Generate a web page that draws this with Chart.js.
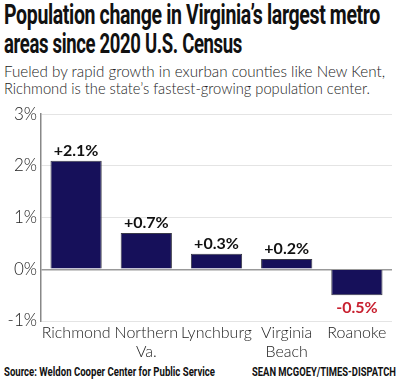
<!DOCTYPE html>
<html>
<head>
<meta charset="utf-8">
<script src="https://cdn.jsdelivr.net/npm/chart.js@4/dist/chart.umd.min.js"></script>
<style>
  html, body { margin: 0; padding: 0; background: #fff; }
  body { width: 400px; height: 381px; position: relative; overflow: hidden; }
  .ln { position: absolute; left: 4px; white-space: nowrap; transform-origin: 0 0; }
  .title { font-family: Roboto, sans-serif; font-weight: bold; font-size: 27px; line-height: 27px; color: #111; letter-spacing: -0.5px; }
  .sub { font-family: Lato, sans-serif; font-weight: 300; font-size: 16px; line-height: 17px; color: #222; }
  .foot { font-family: Roboto, sans-serif; font-weight: bold; font-size: 12px; line-height: 12px; color: #111; }
  #wrap { position: absolute; left: 0; top: 100px; width: 400px; height: 262px; }
</style>
</head>
<body>
<div class="ln title" data-w="376" style="top:2px">Population change in Virginia’s largest metro</div>
<div class="ln title" data-w="238" style="top:31px">areas since 2020 U.S. Census</div>
<div class="ln sub" data-w="381" style="top:62px">Fueled by rapid growth in exurban counties like New Kent,</div>
<div class="ln sub" data-w="366" style="top:79px">Richmond is the state’s fastest-growing population center.</div>
<div id="wrap"><canvas id="chart"></canvas></div>
<div class="ln foot" data-w="211" style="top:366px">Source: Weldon Cooper Center for Public Service</div>
<div class="ln foot" data-w="144" style="top:366px; left:252px">SEAN MCGOEY/TIMES-DISPATCH</div>
<script>
const METROS = [["Richmond"], ["Northern", "Va."], ["Lynchburg"], ["Virginia", "Beach"], ["Roanoke"]];
const CHANGE = [2.1, 0.7, 0.3, 0.2, -0.5];
const Y_TICKS = [-1, 0, 1, 2, 3];

// squeeze the text lines to the widths of the printed graphic
document.querySelectorAll(".ln").forEach((el) => {
  const w = el.getBoundingClientRect().width;
  el.style.transform = `scaleX(${Number(el.dataset.w) / w})`;
});

const barLabels = {
  id: "barLabels",
  afterDatasetsDraw(c) {
    const { ctx } = c;
    const meta = c.getDatasetMeta(0);
    ctx.save();
    ctx.font = "bold 16px Lato, sans-serif";
    ctx.textAlign = "center";
    meta.data.forEach((bar, i) => {
      const v = CHANGE[i];
      const txt = `${v > 0 ? "+" : ""}${v.toFixed(1)}%`;
      if (v >= 0) {
        ctx.fillStyle = "#111";
        ctx.textBaseline = "bottom";
        ctx.fillText(txt, bar.x, bar.y - 2);
      } else {
        ctx.fillStyle = "#c8202f";
        ctx.textBaseline = "top";
        ctx.fillText(txt, bar.x, bar.y + 5);
      }
    });
    ctx.restore();
  },
};

new Chart(document.getElementById("chart"), {
  type: "bar",
  data: {
    labels: METROS,
    datasets: [{ data: CHANGE, backgroundColor: "#16105a", borderColor: "#3a3a48", borderWidth: 1, barPercentage: 0.73, categoryPercentage: 1 }],
  },
  options: {
    responsive: true,
    maintainAspectRatio: false,
    animation: false,
    layout: { padding: { top: 14, right: 8, left: 0, bottom: 0 } },
    plugins: { legend: { display: false }, tooltip: { enabled: false } },
    scales: {
      x: {
        afterFit: (s) => { s.height = 41; },
        grid: { display: false, drawTicks: false },
        border: { display: false },
        ticks: { color: "#222", font: { family: "Lato", weight: "300", size: 16, lineHeight: 1.15 }, padding: 3, maxRotation: 0, autoSkip: false },
      },
      y: {
        min: -1,
        max: 3,
        afterBuildTicks: (s) => { s.ticks = Y_TICKS.map((v) => ({ value: v })); },
        afterFit: (s) => { s.width = 41; },
        grid: { color: (ctx) => (ctx.tick.value === 0 ? "#999" : "#e4e4e4"), lineWidth: (ctx) => (ctx.tick.value === 0 ? 1.5 : 1), drawTicks: false },
        border: { display: true, color: "#888", width: 1.5 },
        ticks: { color: "#222", font: { family: "Lato", weight: "300", size: 17 }, padding: 4, callback: (v) => `${v}%` },
      },
    },
  },
  plugins: [barLabels],
});
</script>
</body>
</html>
